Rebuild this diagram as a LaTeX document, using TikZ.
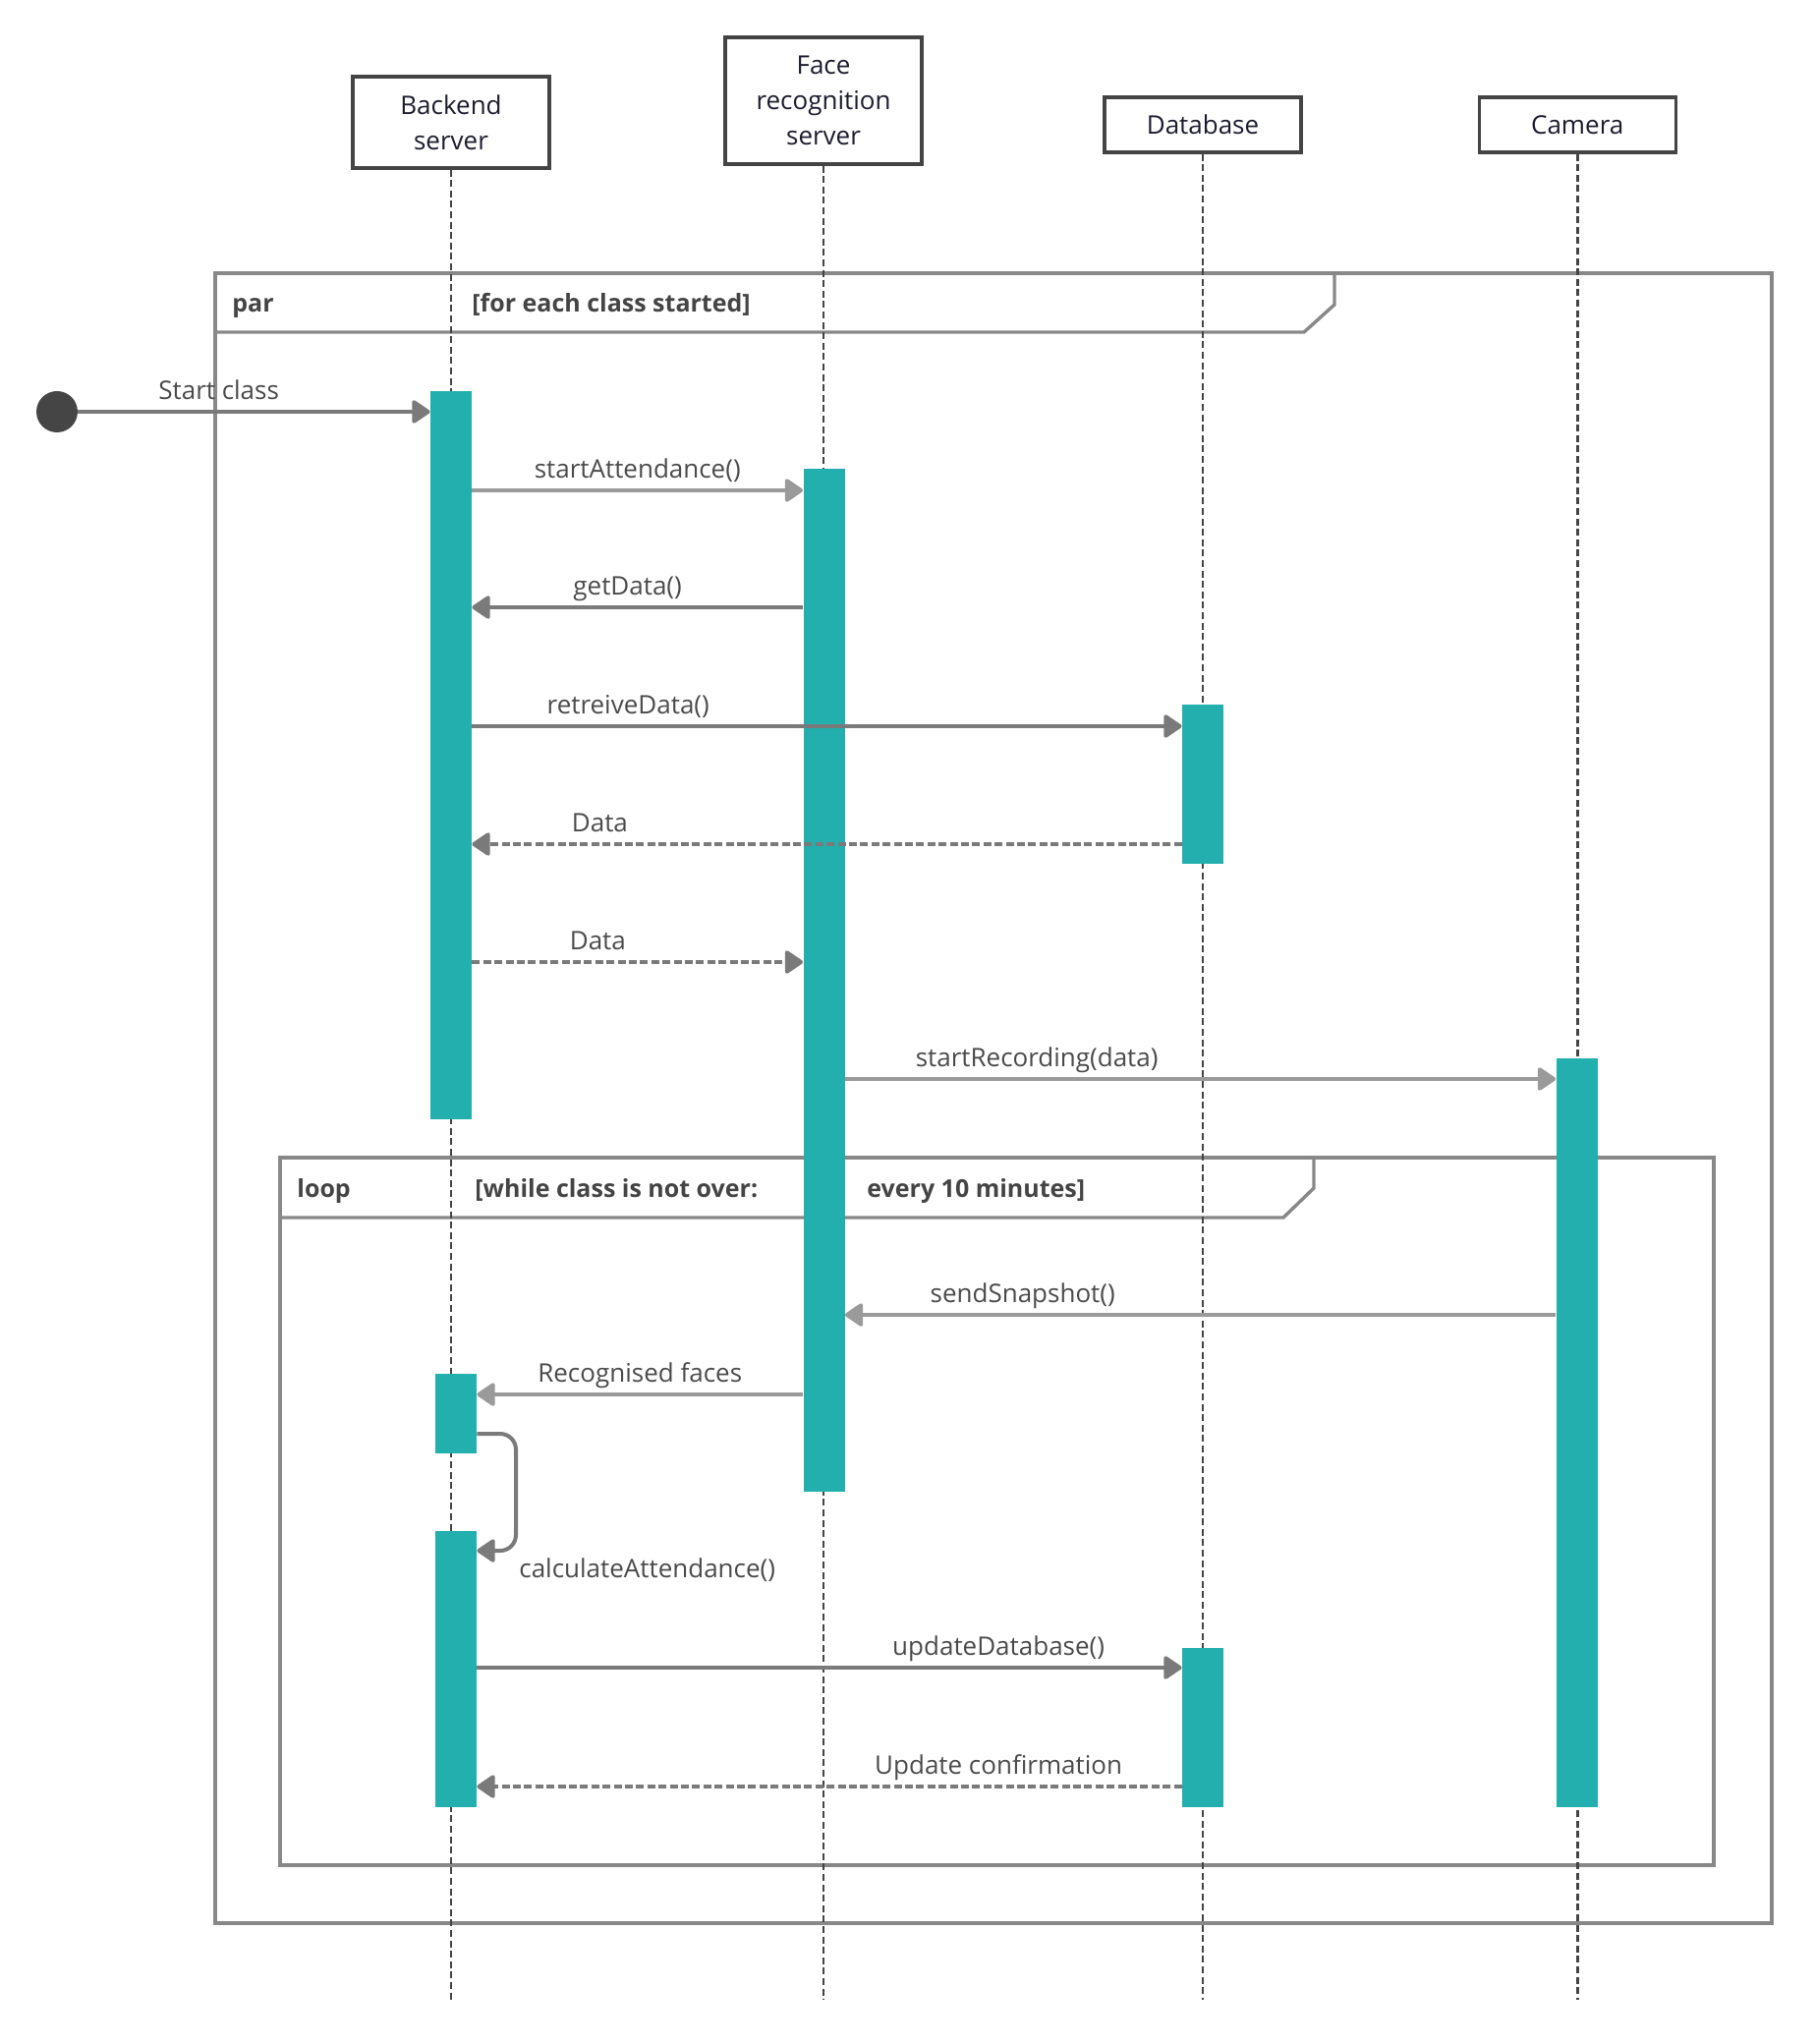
\documentclass[tikz,border=0pt]{standalone}
\usepackage{fontspec}
\setmainfont{Open Sans}
\usetikzlibrary{positioning,arrows.meta}

\definecolor{actteal}{HTML}{22AFAD}
\definecolor{boxline}{HTML}{444444}
\definecolor{headtxt}{HTML}{1C1C2E}
\definecolor{msgtxt}{HTML}{4A4A4A}
\definecolor{lightarr}{HTML}{9A9A9A}
\definecolor{darkarr}{HTML}{7A7A7A}
\definecolor{framegray}{HTML}{888888}
\definecolor{startdot}{HTML}{454545}

\tikzset{
  head/.style={draw=boxline, line width=1.6pt, fill=white, minimum width=100pt,
    minimum height=28pt, align=center, text=headtxt, inner sep=2pt,
    font=\fontsize{13}{18}\selectfont},
  life/.style={draw=boxline, line width=1.3pt, dash pattern=on 3.5pt off 1.8pt},
  act/.style={fill=actteal, minimum width=21pt, inner sep=0pt, anchor=north},
  call/.style={line width=2pt, -{Triangle[length=10pt,width=13pt,round]}},
  light/.style={call, draw=lightarr},
  dark/.style={call, draw=darkarr},
  reply/.style={dark, dash pattern=on 4pt off 1.7pt},
  lbl/.style={text=msgtxt, inner xsep=1.5pt, inner ysep=2.8pt, text height=9.9pt,
    text depth=2.6pt, font=\fontsize{13}{16}\selectfont},
  fragbox/.style={draw=framegray, line width=1.7pt},
  flbl/.style={text=boxline, anchor=base west, inner sep=0pt,
    font=\bfseries\fontsize{12.5}{16}\selectfont},
}

\begin{document}
\begin{tikzpicture}[x=0.5pt, y=-0.5pt]
  \useasboundingbox (0,0) rectangle (1846,2080);

  % Frames
  \draw[fragbox] (219,278) rectangle (1803,1957);
  \draw[fragbox] (219,338) -- (1327,338) -- (1358,310) -- (1358,278);
  \node[flbl] (parl) at (236,318) {par};
  \node[flbl] (parg) at (480,318) {[for each class started]};
  \draw[fragbox] (285,1178) rectangle (1744,1898);
  \draw[fragbox] (285,1239) -- (1306,1239) -- (1337,1209) -- (1337,1178);
  \node[flbl] (loopl) at (302,1218) {loop};
  \node[flbl] (loopg) at (483,1218) {[while class is not over:};
  \node[flbl] (loopg2) at (882,1218) {every 10 minutes]};

  % Define nodes
  \node[head, minimum height=46.5pt] (bs) at (459,124.5) {Backend\\server};
  \node[head, minimum height=64.5pt] (fs) at (838,102.5) {Face\\recognition\\server};
  \node[head] (db) at (1224,127) {Database};
  \node[head, right=89pt of db] (cam) {Camera};

  % Lifelines
  \coordinate (bot) at (0,2035);
  \foreach \n in {bs,fs,db,cam}
    \draw[life] (\n) -- (\n |- bot);

  % Activations
  \node[act, minimum height=370.5pt] (ba1) at (459,398) {};
  \node[act, minimum height=520.5pt] (fa) at (838.5,477) {};
  \node[act, minimum height=81pt] (da1) at (1224,717) {};
  \node[act, minimum height=381pt] (ca) at (1604.5,1077) {};
  \node[act, minimum height=40.5pt] (ba2) at (464,1398) {};
  \node[act, minimum height=140.5pt] (ba3) at (464,1558) {};
  \node[act, minimum height=81pt] (da2) at (1224,1677) {};

  % Message rows
  \foreach \r/\y in {r0/419, r1/499, r2/618, r3/739, r4/859, r5/979,
                     r6/1098, r7/1338, r8/1419, r8b/1459, r9/1697, r10/1818}
    \coordinate (\r) at (0,\y);
  \coordinate (selfc) at (525,1578);

  % Connect the nodes
  \node[circle, fill=startdot, minimum size=21pt, inner sep=0pt] (start) at (58,419) {};
  \draw[dark] (start) -- (ba1.west |- r0) node[lbl, pos=0.4, above] {Start class};
  \draw[light] (ba1.east |- r1) -- (fa.west |- r1) node[lbl, midway, above] {startAttendance()};
  \draw[dark] (fa.west |- r2) -- (ba1.east |- r2) node[lbl, pos=0.53, above] {getData()};
  \draw[dark] (ba1.east |- r3) -- (da1.west |- r3) node[lbl, pos=0.22, above] {retreiveData()};
  \draw[reply] (da1.west |- r4) -- (ba1.east |- r4) node[lbl, pos=0.82, above] {Data};
  \draw[reply] (ba1.east |- r5) -- (fa.west |- r5) node[lbl, pos=0.38, above] {Data};
  \draw[light] (fa.east |- r6) -- (ca.west |- r6) node[lbl, pos=0.27, above] {startRecording(data)};
  \draw[light] (ca.west |- r7) -- (fa.east |- r7) node[lbl, pos=0.75, above] {sendSnapshot()};
  \draw[light] (fa.west |- r8) -- (ba2.east |- r8) node[lbl, midway, above] {Recognised faces};
  \draw[dark, rounded corners=8pt] (ba2.east |- r8b) -| (selfc) -- (ba3.east |- selfc);
  \node[lbl, anchor=west] (calc) at ([yshift=-10pt]selfc) {calculateAttendance()};
  \draw[dark] (ba3.east |- r9) -- (da2.west |- r9) node[lbl, pos=0.74, above] {updateDatabase()};
  \draw[reply] (da2.west |- r10) -- (ba3.east |- r10) node[lbl, pos=0.26, above] {Update confirmation};
\end{tikzpicture}
\end{document}
